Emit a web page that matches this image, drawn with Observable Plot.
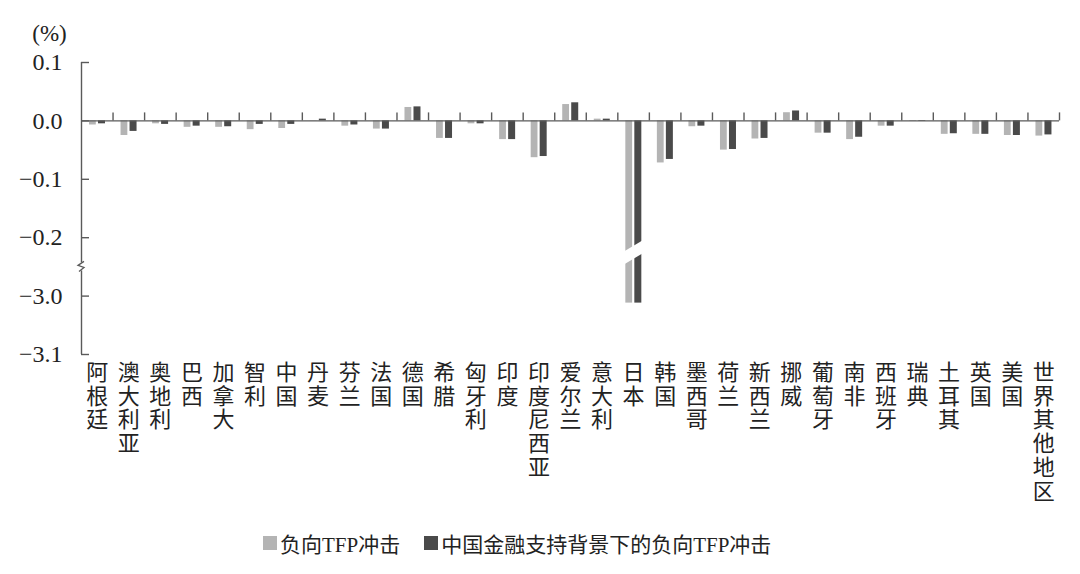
<!DOCTYPE html>
<html><head><meta charset="utf-8">
<script src="https://cdn.jsdelivr.net/npm/d3@7"></script>
<script src="https://cdn.jsdelivr.net/npm/@observablehq/plot@0.6"></script>
<style>
body{margin:0;background:#fff;}
#chart{position:relative;width:1080px;}
.legend{font-family:"Liberation Serif","Noto Sans CJK SC",serif;font-size:21px;height:36px;display:flex;align-items:center;padding-left:263px;color:#222;white-space:nowrap}
.sw{display:inline-block;width:14px;height:14px;margin-right:3px}
.item{display:flex;align-items:center;margin-right:24px}
</style></head>
<body><div id="chart"></div>
<script>
const categories = ["阿根廷","澳大利亚","奥地利","巴西","加拿大","智利","中国","丹麦","芬兰","法国","德国","希腊","匈牙利","印度","印度尼西亚","爱尔兰","意大利","日本","韩国","墨西哥","荷兰","新西兰","挪威","葡萄牙","南非","西班牙","瑞典","土耳其","英国","美国","世界其他地区"];
const lightValues = [-0.007,-0.025,-0.005,-0.011,-0.011,-0.015,-0.013,0.0005,-0.009,-0.014,0.023,-0.030,-0.005,-0.032,-0.063,0.028,0.003,-3.012,-0.072,-0.010,-0.050,-0.031,0.014,-0.021,-0.032,-0.009,-0.001,-0.023,-0.023,-0.025,-0.026];
const darkValues = [-0.005,-0.018,-0.006,-0.009,-0.010,-0.006,-0.006,0.003,-0.007,-0.014,0.024,-0.030,-0.005,-0.032,-0.061,0.031,0.003,-3.012,-0.066,-0.009,-0.049,-0.030,0.017,-0.021,-0.028,-0.009,-0.001,-0.022,-0.023,-0.025,-0.024];
const seriesNames = ["负向TFP冲击","中国金融支持背景下的负向TFP冲击"];
const seriesColors = ["#b4b4b4","#4a4a4a"];
const tickValues = [0.1, 0, -0.1, -0.2, -3.0, -3.1];
const tickLabels = ["0.1","0.0","−0.1","−0.2","−3.0","−3.1"];
const breakShift = 2.7;      // values below the break are moved up by this amount
const axisBreak = -0.25;     // axis-break position (in shifted units)
const barBreak = -0.226;     // where the Japan bar is cut (shifted units)
const brk = v => v < -1 ? v + breakShift : v;

const W = 1080, H = 525, ML = 81, MR = 21, MT = 62, MB = 171;
const plotW = W - ML - MR;
const step = plotW / categories.length;

const lightRows = categories.map((c, i) => ({cat: c, v: brk(lightValues[i])}));
const darkRows = categories.map((c, i) => ({cat: c, v: brk(darkValues[i])}));
const tickRows = tickValues.map((t, i) => ({pos: brk(t), label: tickLabels[i]}));
const axisColor = "#5a5a5a";

const plot = Plot.plot({
  width: W, height: H,
  marginLeft: ML, marginRight: MR, marginTop: MT, marginBottom: MB,
  x: {domain: categories, padding: 0, round: false, axis: null},
  y: {domain: [-0.4, 0.1], axis: null},
  style: {background: "#fff"},
  marks: [
    Plot.barY(lightRows, {x: "cat", y1: 0, y2: "v", fill: seriesColors[0], insetLeft: 8, insetRight: step - 14.8}),
    Plot.barY(darkRows, {x: "cat", y1: 0, y2: "v", fill: seriesColors[1], insetLeft: 17, insetRight: step - 24}),
    Plot.ruleY([0], {stroke: axisColor, strokeWidth: 1.4}),
    Plot.ruleX(categories, {x: d => d, dx: step / 2, y1: 0, y2: 0, insetBottom: 8, stroke: axisColor, strokeWidth: 1.4}),
    Plot.ruleX([categories[0]], {x: d => d, dx: -step / 2, stroke: axisColor, strokeWidth: 1.4}),
    Plot.ruleY(tickRows, {y: "pos", insetRight: plotW - 8, stroke: axisColor, strokeWidth: 1.4}),
    Plot.text(tickRows, {y: "pos", text: "label", frameAnchor: "left", dx: -19, textAnchor: "end", lineAnchor: "middle", fontSize: 24, fontFamily: "Liberation Serif", fill: "#222"}),
    Plot.text(["(%)"], {frameAnchor: "top-left", dx: -32, dy: -29, text: d => d, lineAnchor: "middle", fontSize: 23, fontFamily: "Liberation Serif", fill: "#222", textAnchor: "middle"}),
    Plot.text(categories, {x: d => d, text: d => [...d].join("\n"), frameAnchor: "bottom", lineAnchor: "top", lineHeight: 1.09, dy: 8, fontSize: 22, fontFamily: "Noto Sans CJK SC", fill: "#222"})
  ]
});

const xs = plot.scale("x"), ys = plot.scale("y");
const svg = d3.select(plot);

// axis break symbol
const yb = ys.apply(axisBreak);
svg.append("rect").attr("x", ML - 3).attr("y", yb - 4).attr("width", 6).attr("height", 8).attr("fill", "#fff");
svg.append("path").attr("d", `M${ML+3},${yb-5}L${ML-3},${yb-1}L${ML+3},${yb+1}L${ML-2},${yb+5}`)
  .attr("fill", "none").attr("stroke", axisColor).attr("stroke-width", 1.3);

// cut through the Japan bars
const jx = xs.apply("日本");
const x0 = jx + 4, x1 = jx + 28, xc = (x0 + x1) / 2;
const yc = ys.apply(barBreak), slope = -0.6, half = 6.5;
const yAt = x => yc + slope * (x - xc);
svg.append("path")
  .attr("d", `M${x0},${yAt(x0)-half}L${x1},${yAt(x1)-half}L${x1},${yAt(x1)+half}L${x0},${yAt(x0)+half}Z`)
  .attr("fill", "#fff");

document.getElementById("chart").appendChild(plot);

const legend = d3.select("#chart").append("div").attr("class", "legend");
seriesNames.forEach((n, i) => {
  const it = legend.append("span").attr("class", "item");
  it.append("span").attr("class", "sw").style("background", seriesColors[i]);
  it.append("span").text(n);
});
</script>
</body></html>
